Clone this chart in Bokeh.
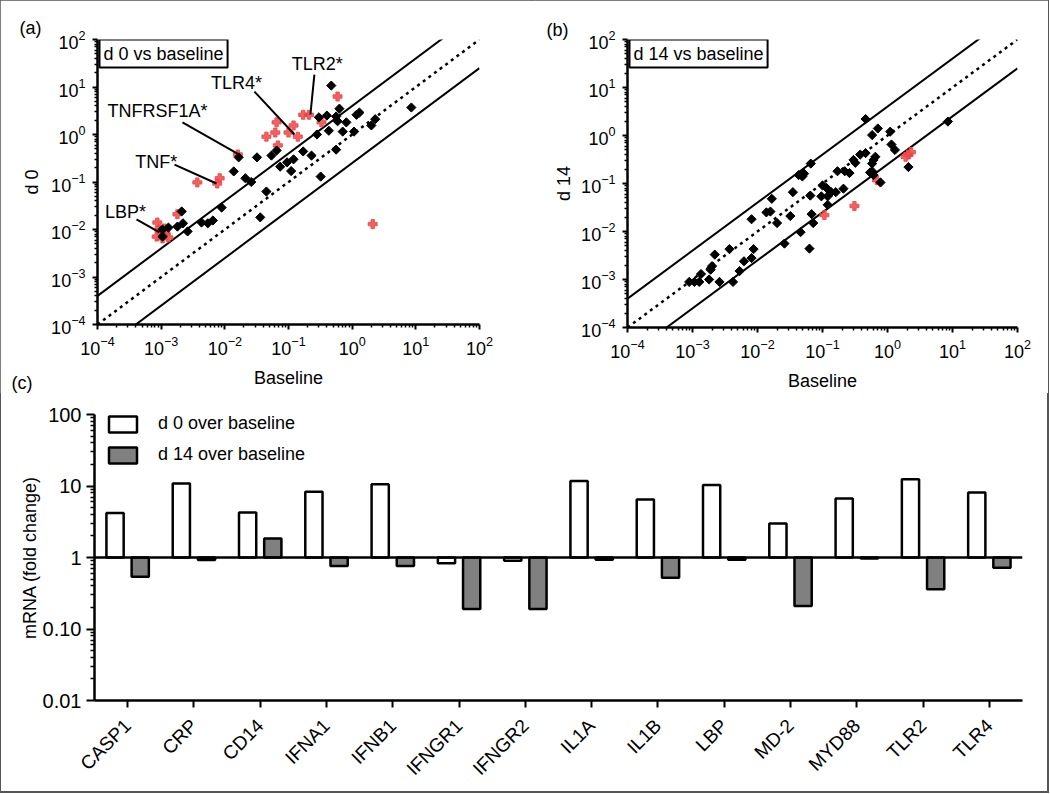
import math
from bokeh.plotting import figure
from bokeh.models import (FixedTicker, Label, Span, Legend, LegendItem,
                          CustomJSTickFormatter, ColumnDataSource, Range1d)
from bokeh.transform import dodge
from bokeh.layouts import column, row
from bokeh.embed import file_html
from bokeh.resources import INLINE
from bokeh.core.properties import value

FONT = "Liberation Sans"

# ---------------- Panel (a): d 0 vs baseline ----------------
a_black_x = [0.47, 0.63, 0.30, 0.40, 0.56, 0.59, 0.81, 0.71, 1.17, 1.3,
             1.07, 2.0, 2.3, 8.5, 0.43, 0.28, 0.56, 0.23, 0.17, 0.12,
             0.095, 0.11, 0.074, 0.065, 0.054, 0.032, 0.0165, 0.0138, 0.021, 0.026,
             0.32, 0.045, 0.0089, 0.036, 0.0021, 0.0018, 0.0022, 0.0013, 0.0026, 0.0043,
             0.0054, 0.0065, 0.00105, 0.00105]
a_black_y = [10.7, 3.5, 2.3, 2.5, 2.4, 1.9, 1.8, 1.15, 2.6, 2.9,
             1.15, 1.55, 2.1, 3.7, 1.2, 1.0, 0.48, 0.36, 0.44, 0.30,
             0.26, 0.17, 0.21, 0.46, 0.36, 0.33, 0.33, 0.167, 0.12, 0.10,
             0.13, 0.063, 0.029, 0.018, 0.024, 0.0115, 0.0135, 0.011, 0.0091, 0.014,
             0.0135, 0.0155, 0.0071, 0.010]
a_red_x = [0.59, 0.17, 0.21, 0.33, 0.065, 0.12, 0.062, 0.045, 0.10, 0.14,
           0.068, 0.016, 0.0037, 0.0083, 0.0076, 0.0018, 2.1,
           0.00087, 0.00093, 0.00112, 0.00085, 0.00105, 0.0013, 0.001, 0.00117]
a_red_y = [6.3, 2.6, 2.6, 1.8, 1.8, 1.55, 1.1, 0.9, 1.1, 0.9,
           0.59, 0.38, 0.098, 0.12, 0.093, 0.021, 0.013,
           0.014, 0.010, 0.0105, 0.0071, 0.0065, 0.0068, 0.0087, 0.0083]

# gene annotations in panel (a)
ann_text = ["TLR2*", "TLR4*", "TNFRSF1A*", "TNF*", "LBP*"]
ann_x = [0.284, 0.0152, 0.000875, 0.00084, 0.000275]
ann_y = [31, 11.9, 3.05, 0.27, 0.0228]
lead_x0 = [0.255, 0.0292, 0.00216, 0.00162, 0.00041]
lead_y0 = [18.3, 8.0, 1.79, 0.233, 0.0163]
lead_x1 = [0.221, 0.124, 0.0158, 0.0074, 0.00094]
lead_y1 = [2.64, 1.0, 0.398, 0.093, 0.00865]

# ---------------- Panel (b): d 14 vs baseline ----------------
b_black_x = [0.46, 0.58, 0.71, 1.1, 1.15, 1.3, 8.5, 2.1,
             0.46, 0.38, 0.32, 0.30, 0.61, 0.65, 0.58, 0.54, 0.61, 0.78,
             0.066, 0.043, 0.049, 0.052, 0.17, 0.22, 0.26,
             0.10, 0.115, 0.096, 0.12, 0.136, 0.16, 0.21,
             0.065, 0.12, 0.068, 0.072, 0.046, 0.063, 0.035, 0.032,
             0.0166, 0.0158, 0.0137, 0.020, 0.0081, 0.026, 0.0087, 0.0062, 0.0081, 0.0053,
             0.0042, 0.0037, 0.0022, 0.0020, 0.0019, 0.0018, 0.0026, 0.00135,
             0.00089, 0.00107, 0.00127, 0.58]
b_black_y = [2.2, 1.02, 1.4, 1.2, 0.65, 0.50, 1.95, 0.22,
             0.43, 0.40, 0.27, 0.31, 0.31, 0.36, 0.26, 0.17, 0.15, 0.105,
             0.26, 0.15, 0.14, 0.16, 0.18, 0.18, 0.165,
             0.091, 0.081, 0.054, 0.054, 0.066, 0.066, 0.078,
             0.056, 0.036, 0.023, 0.015, 0.0097, 0.0044, 0.066, 0.021,
             0.048, 0.026, 0.025, 0.015, 0.018, 0.0056, 0.0043, 0.0024, 0.0028, 0.0015,
             0.00089, 0.0043, 0.0033, 0.0019, 0.0016, 0.0010, 0.00089, 0.0013,
             0.00089, 0.00089, 0.00089, 0.18]
b_red_x = [1.9, 2.3, 2.1, 0.69, 0.31, 0.107]
b_red_y = [0.36, 0.45, 0.40, 0.117, 0.034, 0.022]

# ---------------- Panel (c): fold change ----------------
genes = ["CASP1", "CRP", "CD14", "IFNA1", "IFNB1", "IFNGR1", "IFNGR2",
         "IL1A", "IL1B", "LBP", "MD-2", "MYD88", "TLR2", "TLR4"]
d0_fold = [4.2, 10.8, 4.26, 8.3, 10.6, 0.83, 0.90, 11.7, 6.5, 10.3, 3.0, 6.7, 12.4, 8.1]
d14_fold = [0.54, 0.92, 1.85, 0.76, 0.76, 0.19, 0.19, 0.93, 0.52, 0.93, 0.21, 0.97, 0.36, 0.72]
legend_labels = ["d 0 over baseline", "d 14 over baseline"]

decades = [1e-4, 1e-3, 1e-2, 1e-1, 1.0, 10.0, 100.0]
minor = [m * d for d in decades[:-1] for m in range(2, 10)]
FOLD = 4.0


def style_axis(ax, tick_size="18px"):
    ax.axis_line_width = 2.5
    ax.axis_line_color = "black"
    ax.major_tick_line_width = 2
    ax.minor_tick_line_width = 1.5
    ax.major_tick_in = 0
    ax.minor_tick_in = 0
    ax.major_tick_out = 5
    ax.minor_tick_out = 3
    ax.major_label_text_font = FONT
    ax.major_label_text_font_size = tick_size
    ax.major_label_text_color = "black"
    ax.axis_label_text_font = FONT
    ax.axis_label_text_font_size = "18px"
    ax.axis_label_text_font_style = "normal"
    ax.axis_label_text_color = "black"


def scatter_panel(box_text, ylabel, bx, by, rx, ry, fw, fh, left, right, top, bottom,
                  letter, letter_offset, letter_standoff, ylabel_standoff):
    p = figure(frame_width=fw, frame_height=fh, x_axis_type="log", y_axis_type="log",
               x_range=Range1d(1e-4, 1e2), y_range=Range1d(1e-4, 1e2),
               output_backend="svg", toolbar_location=None, title=letter,
               min_border_left=left, min_border_right=right,
               min_border_top=top, min_border_bottom=bottom)
    p.title.align = "left"
    p.title.offset = letter_offset
    p.title.standoff = letter_standoff
    p.title.vertical_align = "bottom"
    p.title.text_font = FONT
    p.title.text_font_size = "18px"
    p.title.text_font_style = "normal"
    p.title.text_color = "black"
    p.xgrid.visible = False
    p.ygrid.visible = False
    p.outline_line_color = None
    p.background_fill_color = "white"
    p.border_fill_color = "white"
    for ax in (p.xaxis[0], p.yaxis[0]):
        style_axis(ax)
        ax.ticker = FixedTicker(ticks=decades, minor_ticks=minor)
    p.xaxis.axis_label = "Baseline"
    p.yaxis.axis_label = ylabel
    p.xaxis.major_label_standoff = 6
    p.xaxis.axis_label_standoff = 10
    p.yaxis.major_label_standoff = 7
    p.yaxis.axis_label_standoff = ylabel_standoff

    lx = [decades[0], decades[-1]]
    p.line(lx, [v * FOLD for v in lx], line_color="black", line_width=2)
    p.line(lx, lx, line_color="black", line_width=2.5, line_dash="3 4")
    p.line(lx, [v / FOLD for v in lx], line_color="black", line_width=2)

    p.scatter(rx, ry, marker="plus", size=9, color="#f04545", alpha=0.85)
    p.scatter(bx, by, marker="square", angle=math.pi / 4, size=6.5, color="black")

    p.add_layout(Label(x=1e-4, y=1e2, text=box_text, text_align="left", text_baseline="top",
                       x_offset=2, y_offset=0, text_font=FONT, text_font_size="18px",
                       text_color="black",
                       border_line_color="black", border_line_width=2,
                       background_fill_color="white", padding=4))
    return p


pa = scatter_panel("d 0 vs baseline", "d 0", a_black_x, a_black_y, a_red_x, a_red_y,
                   382, 285, 97, 52, 39, 69, "(a)", -78, 4, 6)
pa.segment(lead_x0, lead_y0, lead_x1, lead_y1, line_color="black", line_width=2)
pa.text(ann_x, ann_y, text=ann_text, text_font=value(FONT), text_font_size="18px",
        text_align="center", text_baseline="middle", text_color="black")

pb = scatter_panel("d 14 vs baseline", "d 14", b_black_x, b_black_y, b_red_x, b_red_y,
                   390, 288, 96, 31, 36, 69, "(b)", -81, 0, 4)

# ---------------- Panel (c) ----------------
pc = figure(x_range=genes, y_axis_type="log", y_range=Range1d(0.01, 100),
            frame_width=928, frame_height=286, min_border_left=94, min_border_right=20,
            min_border_top=70, min_border_bottom=92, title="(c)",
            output_backend="svg", toolbar_location=None, margin=(-49, 0, 0, 0))
pc.border_fill_color = None
pc.background_fill_color = "white"
pc.title.align = "left"
pc.title.offset = -83
pc.title.standoff = 44
pc.title.vertical_align = "bottom"
pc.title.text_font = FONT
pc.title.text_font_size = "18px"
pc.title.text_font_style = "normal"
pc.title.text_color = "black"
pc.xgrid.visible = False
pc.ygrid.visible = False
pc.outline_line_color = None
style_axis(pc.xaxis[0], "19px")
style_axis(pc.yaxis[0], "20px")
pc.yaxis.ticker = FixedTicker(ticks=[0.01, 0.1, 1, 10, 100],
                              minor_ticks=[m * d for d in [0.01, 0.1, 1, 10] for m in range(2, 10)])
pc.yaxis.formatter = CustomJSTickFormatter(code="""
if (tick >= 99) return '100';
if (tick >= 9) return '10';
if (tick >= 0.9) return '1';
if (tick >= 0.09) return '0.10';
return '0.01';
""")
pc.yaxis.major_tick_out = 8
pc.yaxis.minor_tick_out = 4
pc.yaxis.major_label_standoff = 5
pc.yaxis.axis_label = "mRNA (fold change)"
pc.yaxis.axis_label_standoff = 0
pc.xaxis.major_tick_out = 7
pc.xaxis.major_label_orientation = math.pi / 4
pc.xaxis.major_label_standoff = 15

src = ColumnDataSource(dict(gene=genes, d0=d0_fold, d14=d14_fold))
r0 = pc.vbar(x=dodge("gene", -0.19, range=pc.x_range), top="d0", bottom=1, width=0.26,
             fill_color="white", line_color="black", line_width=2.5, source=src)
r14 = pc.vbar(x=dodge("gene", 0.19, range=pc.x_range), top="d14", bottom=1, width=0.26,
              fill_color="#808080", line_color="black", line_width=2.5, source=src)
pc.add_layout(Span(location=1, dimension="width", line_color="black", line_width=2.5))

legend = Legend(items=[LegendItem(label=legend_labels[0], renderers=[r0]),
                       LegendItem(label=legend_labels[1], renderers=[r14])],
                location=(11, 235), padding=0, spacing=10, glyph_height=20, glyph_width=35,
                label_height=20, label_standoff=18, label_text_font=FONT,
                label_text_font_size="18px", label_text_color="black",
                border_line_color=None, background_fill_alpha=0)
pc.add_layout(legend)

layout = column(row(pa, pb), pc,
                styles={"outline": "2px solid #555555", "outline-offset": "-1px"})
open("out.html", "w").write(file_html(layout, INLINE))
